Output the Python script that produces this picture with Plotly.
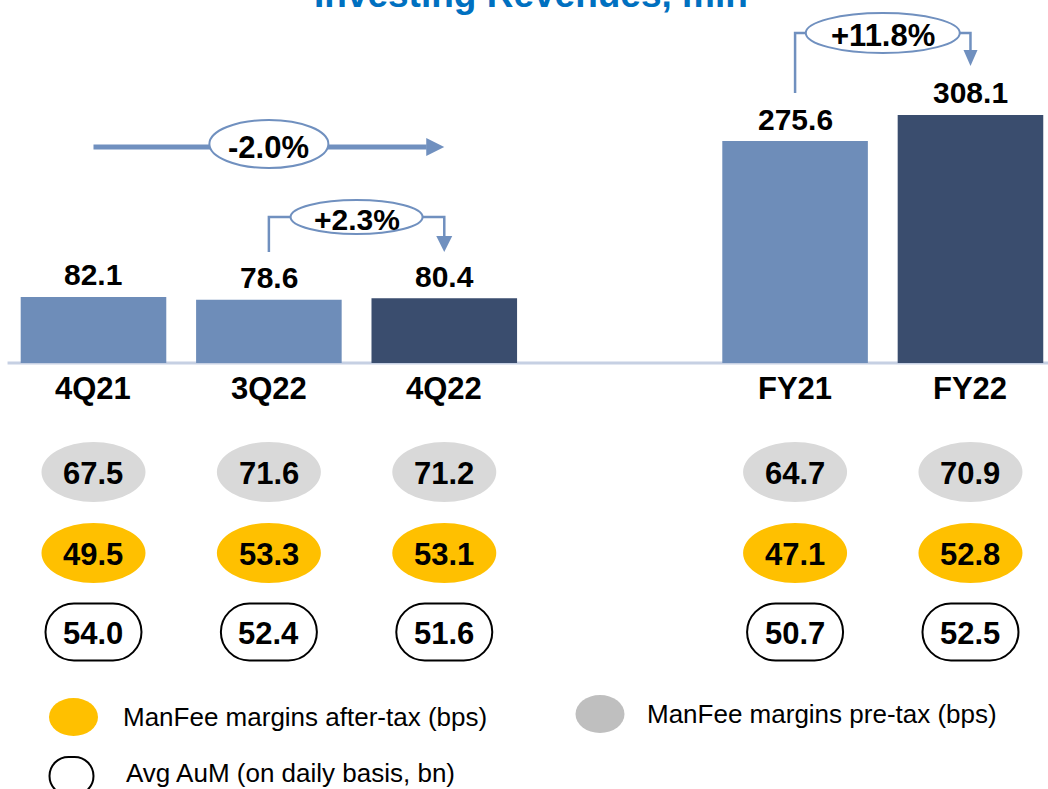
import plotly.graph_objects as go

# ---- data -------------------------------------------------------------
PERIODS      = ["4Q21", "3Q22", "4Q22", "FY21", "FY22"]
REVENUES     = [82.1, 78.6, 80.4, 275.6, 308.1]   # investing revenues, mln
PRETAX_BPS   = [67.5, 71.6, 71.2, 64.7, 70.9]     # ManFee margins pre-tax
AFTERTAX_BPS = [49.5, 53.3, 53.1, 47.1, 52.8]     # ManFee margins after-tax
AVG_AUM      = [54.0, 52.4, 51.6, 50.7, 52.5]     # avg AuM, bn
CHANGE_YOY_Q = "-2.0%"
CHANGE_QOQ   = "+2.3%"
CHANGE_YOY_FY = "+11.8%"

TITLE = "Investing Revenues, mln"
LEG_AFTER = "ManFee margins after-tax (bps)"
LEG_PRE   = "ManFee margins pre-tax (bps)"
LEG_AUM   = "Avg AuM (on daily basis, bn)"

# ---- style ------------------------------------------------------------
LIGHT  = "#6E8DB9"
DARK   = "#3A4D6E"
ARROW  = "#7090BF"
GREY   = "#D9D9D9"
GREY_L = "#BFBFBF"
YELLOW = "#FFC000"
BLUE_T = "#0070C0"
FONT   = "Liberation Sans, Arial, sans-serif"

W, H = 1048, 789
X = [0, 1, 2, 4, 5]                 # gap between quarters and full years
BAR_COLORS = [LIGHT, LIGHT, DARK, LIGHT, DARK]


def py(p):
    """pixel row -> paper y"""
    return 1 - p / H


def ellipse(x, p, w, h, fill, line=None, lw=0, xref="x"):
    return dict(type="circle", xref=xref, yref="paper",
                xsizemode="pixel", ysizemode="pixel",
                xanchor=x, yanchor=py(p),
                x0=-w / 2, x1=w / 2, y0=-h / 2, y1=h / 2,
                fillcolor=fill, line=dict(color=line or fill, width=lw),
                layer="above")


def stadium(x, p, w, h, xref="x"):
    r = h / 2
    a = w / 2 - r
    k = 0.5523 * r
    hw = w / 2
    path = (f"M{-a},{r} L{a},{r} C{a + k},{r} {hw},{k} {hw},0 "
            f"C{hw},{-k} {a + k},{-r} {a},{-r} L{-a},{-r} "
            f"C{-a - k},{-r} {-hw},{-k} {-hw},0 C{-hw},{k} {-a - k},{r} {-a},{r} Z")
    return dict(type="path", xref=xref, yref="paper",
                xsizemode="pixel", ysizemode="pixel",
                xanchor=x, yanchor=py(p), path=path,
                fillcolor="white", line=dict(color="black", width=2),
                layer="above")


def arrow_head(x, p_tip, length, half, direction="down"):
    if direction == "down":
        path = f"M{-half},{length} L{half},{length} L0,0 Z"
    else:  # right
        path = f"M{-length},{half} L{-length},{-half} L0,0 Z"
    return dict(type="path", xref="x", yref="paper",
                xsizemode="pixel", ysizemode="pixel",
                xanchor=x, yanchor=py(p_tip), path=path,
                fillcolor=ARROW, line=dict(color=ARROW, width=0),
                layer="above")


def label(x, p, text, size, bold=True, xref="x", xanchor="center", color="black"):
    return dict(x=x, y=py(p), xref=xref, yref="paper", text=f"<b>{text}</b>" if bold else text,
                showarrow=False, xanchor=xanchor, yanchor="middle",
                font=dict(family=FONT, size=size, color=color))


fig = go.Figure(go.Bar(
    x=X, y=REVENUES, width=0.83,
    marker=dict(color=BAR_COLORS, line=dict(width=0)),
    hoverinfo="skip",
))

shapes = [dict(type="line", xref="x", yref="y", x0=-0.49, x1=5.45, y0=0, y1=0,
               line=dict(color="#C6D0E3", width=3), layer="below")]
annotations = []

# bar values + category labels
for x, v, name in zip(X, REVENUES, PERIODS):
    annotations.append(dict(x=x, y=v, xref="x", yref="y", text=f"<b>{v:.1f}</b>",
                            showarrow=False, yanchor="middle", yshift=22,
                            font=dict(family=FONT, size=30, color="black")))
    annotations.append(dict(x=x, y=0, xref="x", yref="y", text=f"<b>{name}</b>",
                            showarrow=False, yanchor="middle", yshift=-26,
                            font=dict(family=FONT, size=31, color="black")))

# margin / AuM rows
for x, pre, aft, aum in zip(X, PRETAX_BPS, AFTERTAX_BPS, AVG_AUM):
    shapes.append(ellipse(x, 472, 104, 60, GREY))
    shapes.append(ellipse(x, 553, 104, 60, YELLOW))
    shapes.append(stadium(x, 632, 96, 57))
    annotations.append(label(x, 473, f"{pre:.1f}", 31))
    annotations.append(label(x, 554, f"{aft:.1f}", 31))
    annotations.append(label(x, 633, f"{aum:.1f}", 31))

# -2.0% : 4Q21 -> 4Q22
shapes.append(dict(type="line", xref="x", yref="paper", x0=X[0], x1=X[2] - 0.1,
                   y0=py(147), y1=py(147), line=dict(color=ARROW, width=5), layer="above"))
shapes.append(arrow_head(X[2], 147, 18, 9, "right"))
shapes.append(ellipse(X[1], 144, 119, 48, "white", ARROW, 2))
annotations.append(label(X[1], 147, CHANGE_YOY_Q, 31))

# +2.3% : 3Q22 -> 4Q22
shapes.append(dict(type="path", xref="x", yref="paper",
                   path=f"M{X[1]},{py(252)} L{X[1]},{py(217)} L{X[2]},{py(217)} L{X[2]},{py(236)}",
                   line=dict(color=ARROW, width=2.5), layer="above"))
shapes.append(arrow_head(X[2], 252, 16, 8))
shapes.append(ellipse((X[1] + X[2]) / 2, 217, 132, 34, "white", ARROW, 2))
annotations.append(label((X[1] + X[2]) / 2, 219, CHANGE_QOQ, 30))

# +11.8% : FY21 -> FY22
shapes.append(dict(type="path", xref="x", yref="paper",
                   path=f"M{X[3]},{py(93)} L{X[3]},{py(33)} L{X[4]},{py(33)} L{X[4]},{py(50)}",
                   line=dict(color=ARROW, width=2.5), layer="above"))
shapes.append(arrow_head(X[4], 66, 16, 7))
shapes.append(ellipse((X[3] + X[4]) / 2, 33, 154, 40, "white", ARROW, 2))
annotations.append(label((X[3] + X[4]) / 2, 35, CHANGE_YOY_FY, 31))

# legend
shapes.append(ellipse(73.5 / W, 717, 49, 38, YELLOW, xref="paper"))
shapes.append(ellipse(600 / W, 714, 49, 38, GREY_L, xref="paper"))
shapes.append(stadium(71.5 / W, 776, 44, 38, xref="paper"))
annotations.append(label(121 / W, 717, LEG_AFTER, 26, bold=False, xref="paper", xanchor="left"))
annotations.append(label(645 / W, 714, LEG_PRE, 26, bold=False, xref="paper", xanchor="left"))
annotations.append(label(124 / W, 773, LEG_AUM, 26, bold=False, xref="paper", xanchor="left"))

# title, cut off at the top edge as in the source slide
annotations.append(label(530.5 / W, -5, TITLE, 37, xref="paper", color=BLUE_T))

fig.update_layout(
    width=W, height=H,
    margin=dict(l=0, r=0, t=0, b=0),
    paper_bgcolor="white", plot_bgcolor="white",
    showlegend=False,
    xaxis=dict(range=[-0.533, 5.442], visible=False, fixedrange=True),
    yaxis=dict(range=[-529.2, 450.9], visible=False, fixedrange=True),
    shapes=shapes,
    annotations=annotations,
)

# page body has a default 8px margin; drop it so the figure fills the window
fig.write_html("out.html", config={"displayModeBar": False},
               post_script="document.body.style.margin='0';")
